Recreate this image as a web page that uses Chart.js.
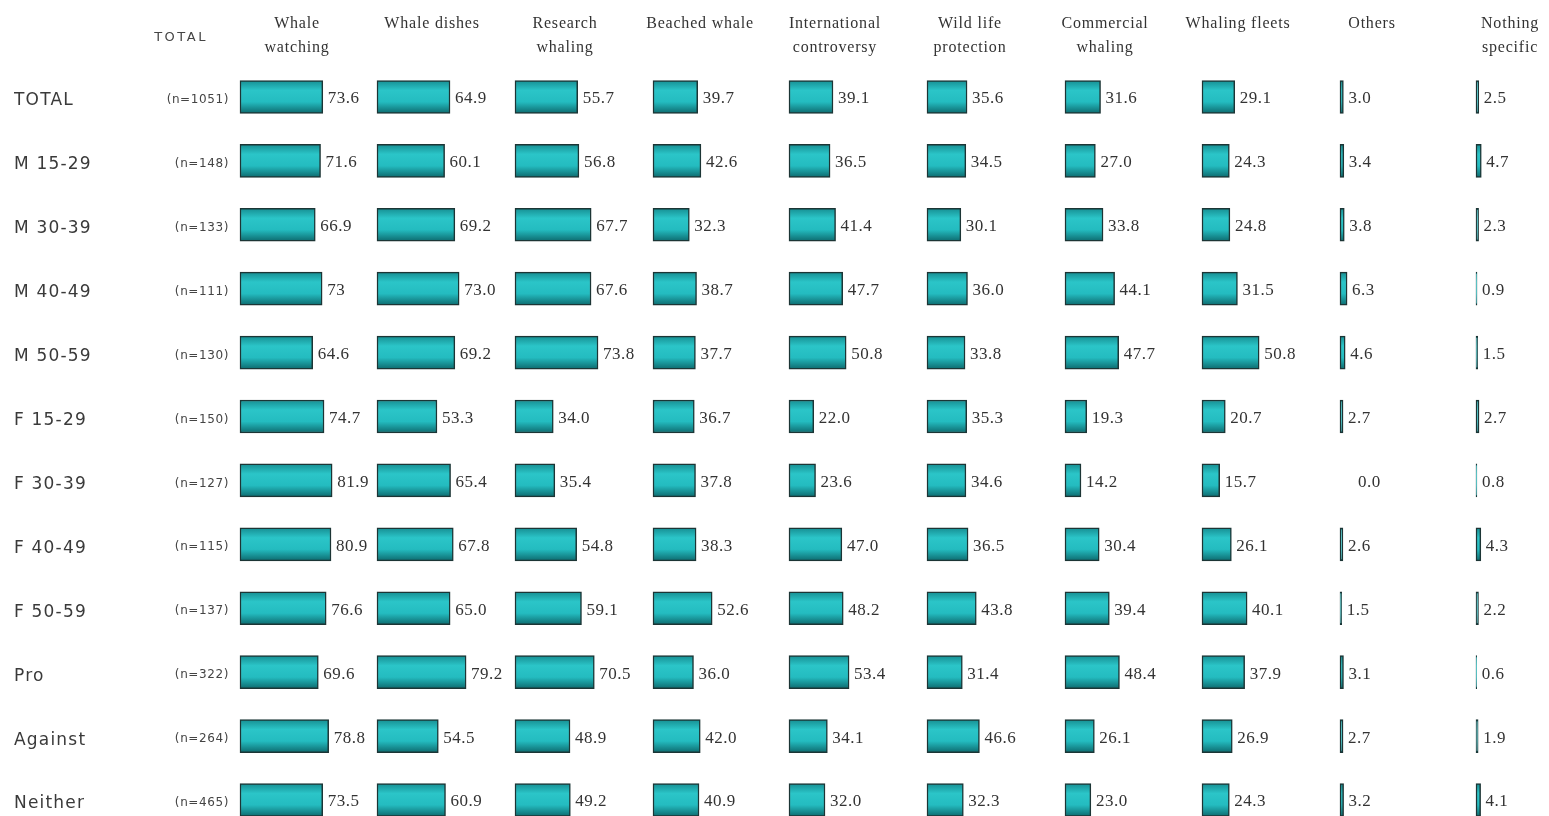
<!DOCTYPE html>
<html>
<head>
<meta charset="utf-8">
<script src="https://cdn.jsdelivr.net/npm/chart.js@4.4.1/dist/chart.umd.min.js"></script>
<style>
html,body{margin:0;padding:0;background:#fff;overflow:hidden;}
#wrap{position:relative;width:1549px;height:816px;}
</style>
</head>
<body>
<div id="wrap"><canvas id="c"></canvas></div>
<script>
// ---- data ----
const rowLabels = ['TOTAL','M 15-29','M 30-39','M 40-49','M 50-59','F 15-29','F 30-39','F 40-49','F 50-59','Pro','Against','Neither'];
const sampleSizes = ['(n=1051)','(n=148)','(n=133)','(n=111)','(n=130)','(n=150)','(n=127)','(n=115)','(n=137)','(n=322)','(n=264)','(n=465)'];
const columnTitles = [
  ['Whale','watching'], ['Whale dishes'], ['Research','whaling'], ['Beached whale'],
  ['International','controversy'], ['Wild life','protection'], ['Commercial','whaling'],
  ['Whaling fleets'], ['Others'], ['Nothing','specific']
];
const whaleWatching   = ['73.6','71.6','66.9','73','64.6','74.7','81.9','80.9','76.6','69.6','78.8','73.5'];
const whaleDishes     = ['64.9','60.1','69.2','73.0','69.2','53.3','65.4','67.8','65.0','79.2','54.5','60.9'];
const researchWhaling = ['55.7','56.8','67.7','67.6','73.8','34.0','35.4','54.8','59.1','70.5','48.9','49.2'];
const beachedWhale    = ['39.7','42.6','32.3','38.7','37.7','36.7','37.8','38.3','52.6','36.0','42.0','40.9'];
const intlControversy = ['39.1','36.5','41.4','47.7','50.8','22.0','23.6','47.0','48.2','53.4','34.1','32.0'];
const wildLife        = ['35.6','34.5','30.1','36.0','33.8','35.3','34.6','36.5','43.8','31.4','46.6','32.3'];
const commercialWhaling = ['31.6','27.0','33.8','44.1','47.7','19.3','14.2','30.4','39.4','48.4','26.1','23.0'];
const whalingFleets   = ['29.1','24.3','24.8','31.5','50.8','20.7','15.7','26.1','40.1','37.9','26.9','24.3'];
const others          = ['3.0','3.4','3.8','6.3','4.6','2.7','0.0','2.6','1.5','3.1','2.7','3.2'];
const nothingSpecific = ['2.5','4.7','2.3','0.9','1.5','2.7','0.8','4.3','2.2','0.6','1.9','4.1'];
const series = [whaleWatching, whaleDishes, researchWhaling, beachedWhale, intlControversy,
                wildLife, commercialWhaling, whalingFleets, others, nothingSpecific];

// ---- layout (pixels) ----
const W = 1549, H = 816;
const AREA_LEFT = 232, AREA_TOP = 65;
const PX_PER_UNIT = 1.125;
const colStart = [240, 377, 515, 653, 789, 927, 1065, 1202, 1340, 1476];
const headerX  = [297, 432, 565, 700, 835, 970, 1105, 1238, 1372, 1510];

const scales = {
  y: {
    type: 'linear', reverse: true, min: -0.5, max: 11.25, position: 'left', offset: false,
    grid: {display: false, offset: false}, border: {display: false},
    afterBuildTicks: s => { s.ticks = rowLabels.map((_, i) => ({value: i})); },
    afterFit: s => { s.width = AREA_LEFT - 14; s.paddingTop = 0; s.paddingBottom = 0; },
    ticks: {
      autoSkip: false, crossAlign: 'far', labelOffset: 4, color: '#3a3a3a',
      font: {family: 'DejaVu Sans', size: 17},
      callback: v => rowLabels[v] ?? ''
    }
  }
};
colStart.forEach((s, i) => {
  scales['x' + i] = {
    type: 'linear', display: false,
    min: -(s - AREA_LEFT) / PX_PER_UNIT,
    max: (W - s) / PX_PER_UNIT
  };
});

function barFill(context) {
  const chart = context.chart;
  if (context.type !== 'data' || !chart.scales.y) return '#25bfc2';
  const py = chart.scales.y.getPixelForValue(context.dataIndex);
  if (!isFinite(py)) return '#25bfc2';
  const g = chart.ctx.createLinearGradient(0, py - 16.5, 0, py + 16.5);
  g.addColorStop(0, '#168e92');
  g.addColorStop(0.3, '#2bc5c8');
  g.addColorStop(0.65, '#24bcc0');
  g.addColorStop(1, '#0d6a6e');
  return g;
}

const datasets = series.map((vals, i) => ({
  label: columnTitles[i].join(' '),
  data: vals.map((v, r) => ({x: Number(v), y: r})),
  xAxisID: 'x' + i, yAxisID: 'y',
  grouped: false, barThickness: 33,
  backgroundColor: barFill, borderColor: '#1c3535', borderWidth: 1.5, borderSkipped: false
}));

const textPlugin = {
  id: 'tableText',
  beforeDraw(chart) {
    chart.ctx.letterSpacing = '1.2px';
  },
  afterDatasetsDraw(chart) {
    const ctx = chart.ctx;
    const y = chart.scales.y;
    ctx.save();
    ctx.letterSpacing = '0.8px';
    ctx.fillStyle = '#333';
    ctx.font = '16px "Liberation Serif"';
    ctx.textAlign = 'center';
    ctx.textBaseline = 'middle';
    columnTitles.forEach((lines, i) => {
      lines.forEach((t, k) => ctx.fillText(t, headerX[i], 24 + k * 24));
    });
    ctx.letterSpacing = '2.5px';
    ctx.font = '13px "DejaVu Sans"';
    ctx.fillStyle = '#444';
    ctx.fillText('TOTAL', 181, 38);
    ctx.letterSpacing = '0.6px';
    ctx.font = '12px "DejaVu Sans"';
    ctx.textAlign = 'right';
    sampleSizes.forEach((t, r) => ctx.fillText(t, 229, y.getPixelForValue(r) + 3));
    ctx.letterSpacing = '0.5px';
    ctx.font = '17px "Liberation Serif"';
    ctx.fillStyle = '#333';
    ctx.textAlign = 'left';
    chart.data.datasets.forEach((ds, i) => {
      const meta = chart.getDatasetMeta(i);
      meta.data.forEach((el, r) => {
        const v = series[i][r];
        const off = Number(v) === 0 ? 18 : 5;
        ctx.fillText(v, el.x + off, el.y + 2);
      });
    });
    ctx.restore();
  },
  afterDraw(chart) { chart.ctx.letterSpacing = '0px'; }
};

new Chart(document.getElementById('c'), {
  type: 'bar',
  data: {datasets},
  options: {
    indexAxis: 'y',
    responsive: true, maintainAspectRatio: false, devicePixelRatio: 1, animation: false,
    layout: {padding: {left: 14, top: AREA_TOP, right: 0, bottom: 0}},
    scales,
    plugins: {legend: {display: false}, tooltip: {enabled: false}}
  },
  plugins: [textPlugin]
});
</script>
</body>
</html>
